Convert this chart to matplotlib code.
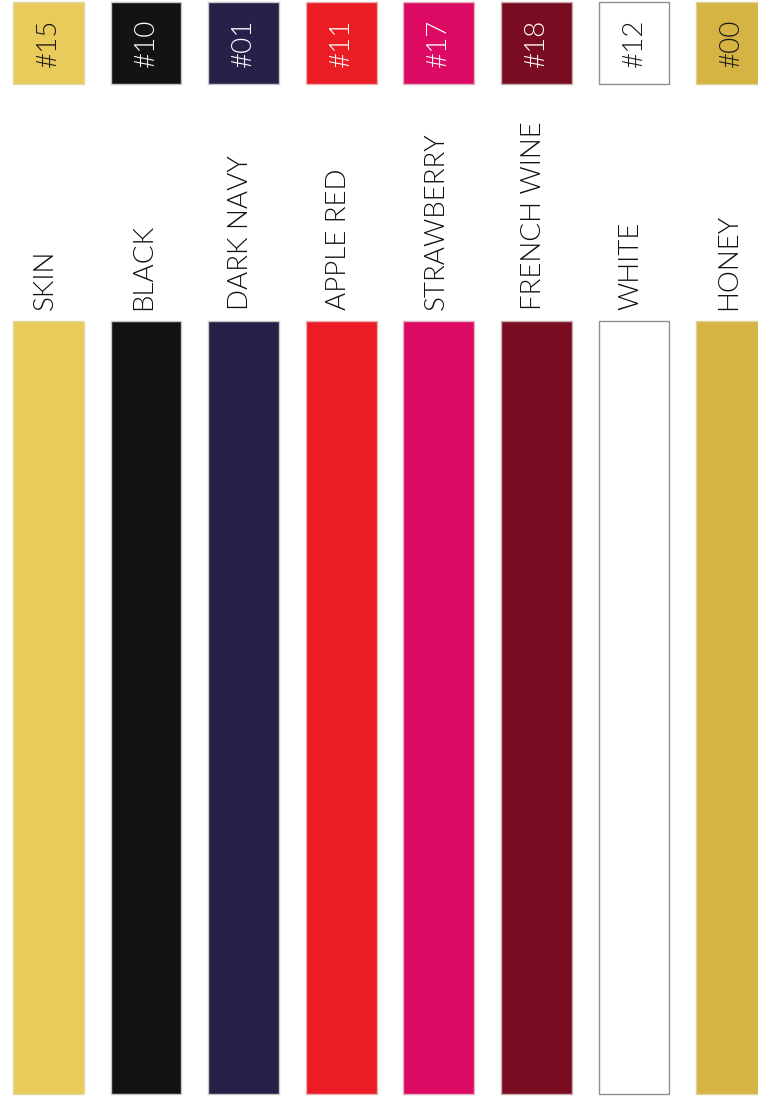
import matplotlib.pyplot as plt

# swatch data
names = ['SKIN', 'BLACK', 'DARK NAVY', 'APPLE RED', 'STRAWBERRY', 'FRENCH WINE', 'WHITE', 'HONEY']
codes = ['#15', '#10', '#01', '#11', '#17', '#18', '#12', '#00']
colors = ['#E8CB5A', '#131316', '#27214A', '#EC1C24', '#DC0A63', '#7A0C22', '#FFFFFF', '#D6B444']
code_text = ['#1a1a1a', '#FFFFFF', '#FFFFFF', '#FFFFFF', '#FFFFFF', '#FFFFFF', '#1a1a1a', '#1a1a1a']
edges = ['#E3D9A8', '#C8C8C8', '#C8C8C8', '#E8B0B0', '#E0B0C0', '#C8B0B0', '#8F8F8F', '#E0D09A']

fig = plt.figure(figsize=(7.58, 10.96), dpi=100)
ax = fig.add_axes([0, 0, 1, 1])
pos = list(range(len(names)))

# small code boxes at the top
ax.bar(pos, 82, bottom=2, width=0.725, color=colors, edgecolor=edges, linewidth=1)
# long swatch bars
ax.bar(pos, 773, bottom=321, width=0.725, color=colors, edgecolor=edges, linewidth=1)

for i in pos:
    ax.text(i, 43, codes[i], rotation=90, ha='center', va='center',
            fontsize=20, color=code_text[i], family='Lato', weight=300)
    ax.text(i - 0.03, 310, names[i], rotation=90, ha='center', va='bottom',
            fontsize=20, color='#111111', family='Lato', weight=300)

ax.set_xlim(-0.497, 7.27)
ax.set_ylim(1096, 0)
ax.axis('off')

fig.savefig('out.png', dpi=100)
